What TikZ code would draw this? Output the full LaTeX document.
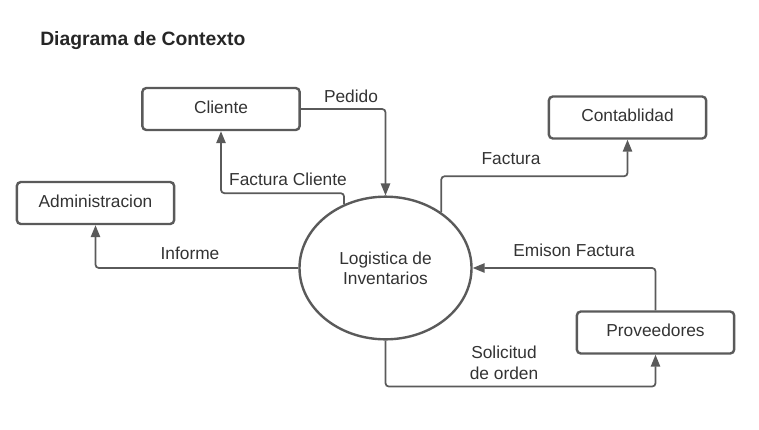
\documentclass[tikz,border=0pt]{standalone}
\usepackage{fontspec}
\setmainfont{Liberation Sans}
\usetikzlibrary{arrows.meta, shapes.geometric}
\definecolor{linhagris}{RGB}{90,90,90}
\definecolor{textogris}{RGB}{51,51,51}

\begin{document}
\begin{tikzpicture}[x=0.75pt, y=-0.75pt,
  caja/.style = {draw=linhagris, line width=1.8pt, rounded corners=3pt, minimum width=118pt, minimum height=31.5pt, inner sep=0pt, text height=9.5pt, text depth=3pt, text=textogris, font=\fontsize{13}{15.5}\selectfont},
  flujo/.style = {draw=linhagris, line width=1.3pt, rounded corners=2.5pt, -{Triangle[width=7pt,length=9pt]}},
  rotulo/.style = {anchor=base, text=textogris, font=\fontsize{13}{15.5}\selectfont, inner sep=0pt}]
\useasboundingbox (0,0) rectangle (759,429);

% titulo
\node [anchor=base west, inner sep=0pt, text=black!85, font=\fontsize{14.5}{17}\selectfont\bfseries] (titulo) at (40,45) {Diagrama de Contexto};

% entidades externas y proceso
\node [caja] (cliente) at (221,109) {Cliente};
\node [caja] (admin) at (95.5,203) {Administracion};
\node [caja] (contab) at (627.5,117.5) {Contablidad};
\node [caja] (proveed) at (655.5,332.5) {Proveedores};
\node [draw=linhagris, line width=1.8pt, ellipse, minimum width=129pt, minimum height=107pt, inner sep=0pt, align=center, text=textogris, font=\fontsize{13}{15}\selectfont] (logistica) at (385.5,268) {Logistica de\\Inventarios};

% flujos de datos
\draw [flujo] (cliente.east) -| (logistica.north);
\draw [flujo] (logistica.123) -- ++(0,-11) -| (cliente.south);
\draw [flujo] (logistica.west) -| (admin.south);
\draw [flujo] (logistica.45) -- ++(0,-36) -| (contab.south);
\draw [flujo] (proveed.north) |- (logistica.east);
\draw [flujo] (logistica.south) -- ++(0,46) -| (proveed.south);

% textos de los flujos
\node [rotulo] (textoPedido) at (351,102) {Pedido};
\node [rotulo] (textoFacturaCliente) at (288,185) {Factura Cliente};
\node [rotulo] (textoInforme) at (190,259) {Informe};
\node [rotulo] (textoFactura) at (511,164) {Factura};
\node [rotulo] (textoEmison) at (574,256) {Emison Factura};
\node [rotulo, align=center] (textoSolicitud) at (504,379) {Solicitud\\de orden};

\end{tikzpicture}
\end{document}
